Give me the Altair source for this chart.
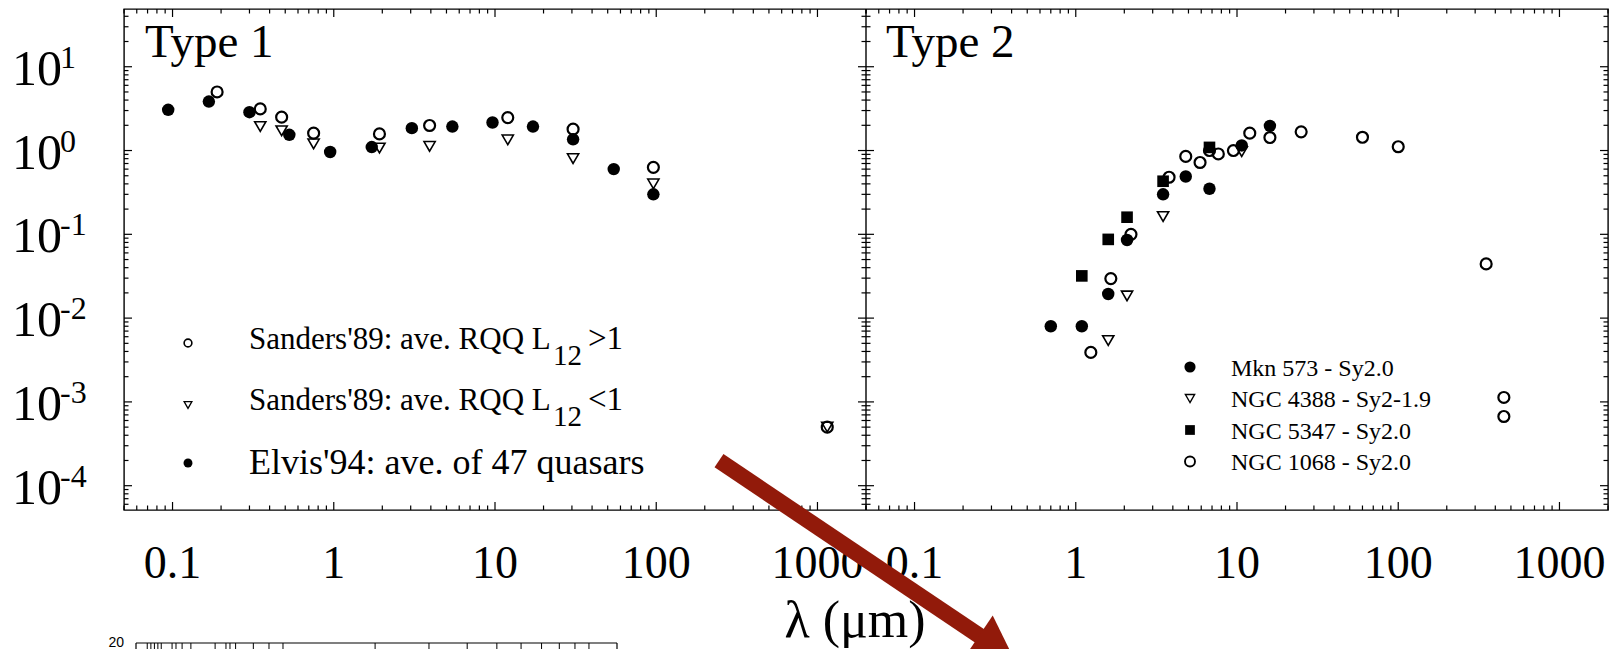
import math
import altair as alt
import pandas as pd

# ---------------- data ----------------
# Type 1 panel
elvis_x = [0.094, 0.168, 0.30, 0.53, 0.95, 1.72, 3.05, 5.44, 9.65, 17.2, 30.5, 54.5, 96]
elvis_y = [3.06, 3.84, 2.87, 1.54, 0.96, 1.10, 1.85, 1.93, 2.16, 1.93, 1.36, 0.60, 0.30]
sandA_x = [0.189, 0.35, 0.475, 0.75, 1.92, 3.93, 12.0, 30.5, 96, 1150]
sandA_y = [5.0, 3.14, 2.5, 1.61, 1.58, 1.99, 2.47, 1.80, 0.63, 5.0e-4]
sandB_x = [0.35, 0.475, 0.75, 1.92, 3.93, 12.0, 30.5, 96, 1150]
sandB_y = [1.93, 1.72, 1.20, 1.07, 1.12, 1.34, 0.80, 0.40, 5.0e-4]

# Type 2 panel
mkn573_x = [0.70, 1.09, 1.59, 2.08, 3.48, 4.81, 6.75, 10.7, 16.0]
mkn573_y = [0.0080, 0.0080, 0.0194, 0.0856, 0.30, 0.49, 0.35, 1.15, 1.97]
ngc4388_x = [1.59, 2.08, 3.48, 10.7]
ngc4388_y = [0.0054, 0.0184, 0.163, 0.97]
ngc5347_x = [1.09, 1.59, 2.08, 3.48, 6.75]
ngc5347_y = [0.0319, 0.087, 0.16, 0.43, 1.09]
ngc1068_x = [1.24, 1.65, 2.2, 3.79, 4.81, 5.9, 6.75, 7.66, 9.5, 12.0, 16.0, 25, 60, 100, 351, 452, 452]
ngc1068_y = [0.0039, 0.0296, 0.10, 0.48, 0.85, 0.72, 1.0, 0.91, 1.0, 1.61, 1.43, 1.67, 1.44, 1.11,
             0.0443, 0.00113, 0.00067]

# axes text
x_tick_values = [0.1, 1, 10, 100, 1000]
x_tick_labels = ["0.1", "1", "10", "100", "1000"]
y_tick_values = [10, 1, 0.1, 0.01, 0.001, 0.0001]
y_tick_exps = ["1", "0", "-1", "-2", "-3", "-4"]
x_title = "λ (μm)"
panel_titles = ["Type 1", "Type 2"]

left_legend = ["Sanders'89: ave. RQQ L", "Sanders'89: ave. RQQ L", "Elvis'94: ave. of 47 quasars"]
left_legend_sub = ["12", "12", ""]
left_legend_tail = [">1", "<1", ""]
right_legend = ["Mkn 573 - Sy2.0", "NGC 4388 - Sy2-1.9", "NGC 5347 - Sy2.0", "NGC 1068 - Sy2.0"]

# small inset at the bottom (only its top edge is visible)
inset_ticks = [0.36, 0.37, 0.38, 0.39, 0.4, 0.434, 0.447, 0.468, 0.5, 0.6, 0.651, 0.671, 0.7, 0.8, 0.9,
               1, 2, 3, 4, 5, 6, 7, 8, 9, 10]
inset_label = "20"

# ---------------- layout ----------------
SERIF = "Liberation Serif"
WP = 742
W = 2 * WP
H = 501
X_DOMAIN = [0.05, 2000]
Y_DOMAIN = [10 ** -4.29, 10 ** 1.689]
ARROW = "#921a0a"

xL = alt.Scale(type="log", domain=X_DOMAIN, range=[0, WP], nice=False)
xR = alt.Scale(type="log", domain=X_DOMAIN, range=[WP, W], nice=False)
yS = alt.Scale(type="log", domain=Y_DOMAIN, nice=False)
xI = alt.Scale(type="log", domain=[0.321, 12.35], range=[8, 493], nice=False)


def log_ticks(lo, hi):
    major, minor = [], []
    for d in range(math.floor(math.log10(lo)) - 1, math.ceil(math.log10(hi)) + 1):
        for k in range(1, 10):
            v = k * 10.0 ** d
            if lo <= v <= hi:
                (major if k == 1 else minor).append(v)
    return major, minor


xmaj, xmin = log_ticks(*X_DOMAIN)
ymaj, ymin = log_ticks(*Y_DOMAIN)
MAJ, MIN = 8, 4.5


def one():
    return pd.DataFrame({"a": [0]})


def pts(xs, ys, scale, shape, filled, size, sw=1.6):
    df = pd.DataFrame({"x": xs, "y": ys})
    return alt.Chart(df).mark_point(shape=shape, filled=filled, size=size, strokeWidth=sw,
                                    color="black", opacity=1).encode(
        x=alt.X("x:Q", scale=scale, axis=None), y=alt.Y("y:Q", scale=yS, axis=None))


def xticks(vals, scale, y0, y1):
    return alt.Chart(pd.DataFrame({"v": vals})).mark_rule(color="black", strokeWidth=1.2).encode(
        x=alt.X("v:Q", scale=scale, axis=None), y=alt.value(y0), y2=alt.value(y1))


def yticks(vals, x0, x1):
    return alt.Chart(pd.DataFrame({"v": vals})).mark_rule(color="black", strokeWidth=1.2).encode(
        y=alt.Y("v:Q", scale=yS, axis=None), x=alt.value(x0), x2=alt.value(x1))


def label(text, x, y, size, align="left", font=SERIF):
    return alt.Chart(pd.DataFrame({"t": [text]})).mark_text(
        font=font, fontSize=size, align=align, baseline="alphabetic", color="black").encode(
        text="t:N", x=alt.value(x), y=alt.value(y))


def sym(x, y, shape, filled, size, sw=1.4):
    return alt.Chart(one()).mark_point(shape=shape, filled=filled, size=size, strokeWidth=sw,
                                       color="black", opacity=1).encode(x=alt.value(x), y=alt.value(y))


def xlabels(scale):
    df = pd.DataFrame({"v": x_tick_values, "t": x_tick_labels})
    return alt.Chart(df).mark_text(font=SERIF, fontSize=46, baseline="alphabetic", align="center",
                                   color="black").encode(
        x=alt.X("v:Q", scale=scale, axis=None), y=alt.value(569), text="t:N")


def panel(scale, pts_layers):
    return alt.layer(
        xticks(xmaj, scale, H, H - MAJ), xticks(xmin, scale, H, H - MIN),
        xticks(xmaj, scale, 0, MAJ), xticks(xmin, scale, 0, MIN),
        xlabels(scale),
        *pts_layers,
    )


left = panel(xL, [
    pts(elvis_x, elvis_y, xL, "circle", True, 155),
    pts(sandB_x, sandB_y, xL, "triangle-down", False, 125, 1.6),
    pts(sandA_x, sandA_y, xL, "circle", False, 120, 2.2),
])

right = panel(xR, [
    pts(mkn573_x, mkn573_y, xR, "circle", True, 155),
    pts(ngc5347_x, ngc5347_y, xR, "square", True, 135),
    pts(ngc4388_x, ngc4388_y, xR, "triangle-down", False, 125, 1.6),
    pts(ngc1068_x, ngc1068_y, xR, "circle", False, 120, 2.2),
])

# y ticks on all vertical edges + y labels
ydf = pd.DataFrame({"v": y_tick_values, "t": ["10"] * len(y_tick_values), "e": y_tick_exps})
yaxis = alt.layer(
    yticks(ymaj, 0, MAJ), yticks(ymin, 0, MIN),
    yticks(ymaj, WP, WP - MAJ), yticks(ymin, WP, WP - MIN),
    yticks(ymaj, WP, WP + MAJ), yticks(ymin, WP, WP + MIN),
    yticks(ymaj, W, W - MAJ), yticks(ymin, W, W - MIN),
    alt.Chart(ydf).mark_text(font=SERIF, fontSize=50, align="left", baseline="alphabetic", dy=18,
                             color="black").encode(
        y=alt.Y("v:Q", scale=yS, axis=None), x=alt.value(-112), text="t:N"),
    alt.Chart(ydf).mark_text(font=SERIF, fontSize=32, align="left", baseline="alphabetic", dy=1,
                             color="black").encode(
        y=alt.Y("v:Q", scale=yS, axis=None), x=alt.value(-64), text="e:N"),
)

divider = alt.Chart(one()).mark_rule(color="black", strokeWidth=1.4).encode(
    x=alt.value(WP), y=alt.value(0), y2=alt.value(H))

# legends
leg_rows_y = [340, 401, 465]
leg_sym_y = [334, 396, 454]
leg = [
    sym(64, leg_sym_y[0], "circle", False, 60, 1.6),
    sym(64, leg_sym_y[1], "triangle-down", False, 60, 1.3),
    sym(64, leg_sym_y[2], "circle", True, 80),
]
for i in range(3):
    leg.append(label(left_legend[i], 125, leg_rows_y[i], 31 if left_legend_sub[i] else 36))
    if left_legend_sub[i]:
        leg.append(label(left_legend_sub[i], 429, leg_rows_y[i] + 16, 29))
        leg.append(label(left_legend_tail[i], 464, leg_rows_y[i], 33))

r_base = [366.5, 398, 429.5, 461]
r_shapes = [("circle", True, 125), ("triangle-down", False, 85), ("square", True, 95), ("circle", False, 100)]
for i, (shp, fil, sz) in enumerate(r_shapes):
    leg.append(sym(1066, r_base[i] - 8.5, shp, fil, sz, 1.9 if shp == "circle" else 1.4))
    leg.append(label(right_legend[i], 1107, r_base[i], 24))

texts = alt.layer(
    label(panel_titles[0], 21, 48, 47),
    label(panel_titles[1], WP + 20, 48, 47),
    label(x_title, 731, 628, 52, align="center"),
)

# inset strip at the bottom
inset = alt.layer(
    alt.Chart(one()).mark_rule(color="black", strokeWidth=1.2).encode(
        x=alt.value(12), x2=alt.value(493), y=alt.value(634)),
    alt.Chart(one()).mark_rule(color="black", strokeWidth=1.2).encode(
        x=alt.value(12), y=alt.value(634), y2=alt.value(645)),
    alt.Chart(one()).mark_rule(color="black", strokeWidth=1.2).encode(
        x=alt.value(493), y=alt.value(634), y2=alt.value(645)),
    alt.Chart(pd.DataFrame({"v": inset_ticks})).mark_rule(color="black", strokeWidth=1.0).encode(
        x=alt.X("v:Q", scale=xI, axis=None), y=alt.value(634), y2=alt.value(641)),
    alt.Chart(pd.DataFrame({"t": [inset_label]})).mark_text(
        font="Liberation Sans", fontSize=14, align="right", baseline="middle", color="black").encode(
        text="t:N", x=alt.value(0), y=alt.value(634)),
)

# red arrow on top
arrow = alt.layer(
    alt.Chart(one()).mark_rule(color=ARROW, strokeWidth=16, strokeCap="butt").encode(
        x=alt.value(595), y=alt.value(451.7), x2=alt.value(858), y2=alt.value(628.5)),
    alt.Chart(one()).mark_point(shape="M -0.87 -1 L 0.87 0 L -0.87 1 Z", filled=True, size=2300,
                                angle=34, color=ARROW, opacity=1, strokeWidth=0).encode(
        x=alt.value(872.6), y=alt.value(638)),
)

misc = alt.layer(yaxis, divider, *leg, texts)

chart = alt.layer(left, right, inset, misc, arrow).resolve_scale(x="independent").properties(
    width=W, height=H,
    autosize=alt.AutoSizeParams(type="none"),
    padding={"left": 124, "top": 9, "right": 4, "bottom": 139},
    background="white",
).configure_view(stroke="black", strokeWidth=1.4)

chart.save("out.html", embed_options={"renderer": "svg", "actions": False})
